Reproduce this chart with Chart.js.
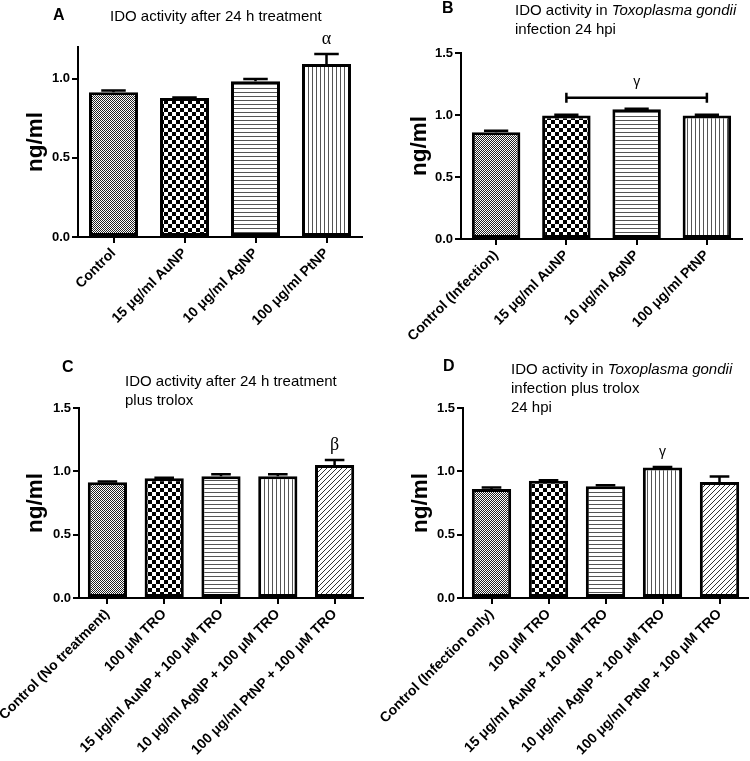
<!DOCTYPE html>
<html>
<head>
<meta charset="utf-8">
<script src="https://cdn.jsdelivr.net/npm/chart.js@4.4.0/dist/chart.umd.min.js"></script>
<style>
  body { margin: 0; background: #fff; }
  #wrap { position: relative; width: 750px; height: 761px; overflow: hidden; font-family: 'Liberation Sans', Arial, sans-serif; color: #000; }
  canvas { position: absolute; }
  .letter { position: absolute; font-weight: bold; font-size: 16px; line-height: 16px; }
  .title { position: absolute; font-size: 15px; line-height: 19px; white-space: nowrap; }
</style>
</head>
<body>
<div id="wrap">
  <canvas id="chartA" width="375" height="360" style="left:0;top:0"></canvas>
  <canvas id="chartB" width="375" height="360" style="left:375px;top:0"></canvas>
  <canvas id="chartC" width="375" height="401" style="left:0;top:360px"></canvas>
  <canvas id="chartD" width="375" height="401" style="left:375px;top:360px"></canvas>

  <div class="letter" style="left:53px;top:7px">A</div>
  <div class="title" style="left:110px;top:6px">IDO activity after 24 h treatment</div>
  <div class="letter" style="left:442px;top:0px">B</div>
  <div class="title" style="left:515px;top:0px">IDO activity in <i>Toxoplasma gondii</i><br>infection 24 hpi</div>
  <div class="letter" style="left:62px;top:359px">C</div>
  <div class="title" style="left:125px;top:371px">IDO activity after 24 h treatment<br>plus trolox</div>
  <div class="letter" style="left:443px;top:358px">D</div>
  <div class="title" style="left:511px;top:359px">IDO activity in <i>Toxoplasma gondii</i><br>infection plus trolox<br>24 hpi</div>
</div>
<script>
// données
const labelsA = ["Control", "15 μg/ml AuNP", "10 μg/ml AgNP", "100 μg/ml PtNP"];
const valuesA = [0.915, 0.878, 0.983, 1.093];
const errorsA = [0.010, 0.003, 0.015, 0.063];

const labelsB = ["Control (Infection)", "15 μg/ml AuNP", "10 μg/ml AgNP", "100 μg/ml PtNP"];
const valuesB = [0.861, 0.995, 1.047, 0.995];
const errorsB = [0.011, 0.008, 0.004, 0.008];

const labelsC = ["Control (No treatment)", "100 μM TRO", "15 μg/ml AuNP + 100 μM TRO", "10 μg/ml AgNP + 100 μM TRO", "100 μg/ml PtNP + 100 μM TRO"];
const valuesC = [0.913, 0.945, 0.962, 0.962, 1.050];
const errorsC = [0.006, 0.004, 0.014, 0.014, 0.040];

const labelsD = ["Control (Infection only)", "100 μM TRO", "15 μg/ml AuNP + 100 μM TRO", "10 μg/ml AgNP + 100 μM TRO", "100 μg/ml PtNP + 100 μM TRO"];
const valuesD = [0.860, 0.925, 0.882, 1.030, 0.915];
const errorsD = [0.013, 0.005, 0.008, 0.004, 0.045];

const yTicksA = [0, 0.5, 1.0];
const yTicksBCD = [0, 0.5, 1.0, 1.5];

// marques de significativité
const sigA = [{ bar: 3, text: "α" }];
const bracketB = { from: 1, to: 3, value: 1.14, text: "γ" };
const sigC = [{ bar: 4, text: "β" }];
const sigD = [{ bar: 3, text: "γ" }];

// motifs de remplissage
function makePattern(kind) {
  const c = document.createElement('canvas');
  const g = c.getContext('2d');
  const n = { fine: 2, checker: 8, hlines: 4, vlines: 4, diag: 5 }[kind];
  c.width = n; c.height = n;
  g.fillStyle = '#fff';
  g.fillRect(0, 0, n, n);
  if (kind === 'fine') {
    g.fillStyle = '#222';
    g.fillRect(0, 0, 1, 1);
    g.fillRect(1, 1, 1, 1);
  } else if (kind === 'checker') {
    g.fillStyle = '#000';
    g.fillRect(0, 0, 4, 4);
    g.fillRect(4, 4, 4, 4);
  } else if (kind === 'hlines') {
    g.fillStyle = '#555';
    g.fillRect(0, 0, n, 1);
  } else if (kind === 'vlines') {
    g.fillStyle = '#555';
    g.fillRect(0, 0, 1, n);
  } else if (kind === 'diag') {
    g.fillStyle = '#333';
    for (let i = 0; i < n; i++) g.fillRect(i, n - 1 - i, 1, 1);
  }
  return g.createPattern(c, 'repeat');
}
const pats = {};
['fine', 'checker', 'hlines', 'vlines', 'diag'].forEach(k => pats[k] = makePattern(k));

// barres d'erreur + symboles
const errorPlugin = {
  id: 'errorBars',
  afterDatasetsDraw(chart, args, opts) {
    const ctx = chart.ctx;
    const y = chart.scales.y;
    const meta = chart.getDatasetMeta(0);
    const vals = chart.data.datasets[0].data;
    const tops = [];
    ctx.save();
    ctx.strokeStyle = '#000';
    ctx.lineWidth = 2.5;
    meta.data.forEach((bar, i) => {
      const top = y.getPixelForValue(vals[i] + opts.errors[i]);
      const base = y.getPixelForValue(vals[i]);
      const half = bar.width / 4;
      tops.push(top);
      ctx.beginPath();
      ctx.moveTo(bar.x, base);
      ctx.lineTo(bar.x, top);
      ctx.moveTo(bar.x - half, top);
      ctx.lineTo(bar.x + half, top);
      ctx.stroke();
    });
    ctx.fillStyle = '#000';
    ctx.textAlign = 'center';
    ctx.textBaseline = 'middle';
    (opts.marks || []).forEach(m => {
      ctx.font = m.text === 'γ' ? "14px 'Liberation Sans', Arial" : "18px 'Liberation Serif', serif";
      ctx.fillText(m.text, meta.data[m.bar].x, tops[m.bar] - 15);
    });
    const br = opts.bracket;
    if (br) {
      const x1 = meta.data[br.from].x, x2 = meta.data[br.to].x;
      const yy = y.getPixelForValue(br.value);
      ctx.beginPath();
      ctx.moveTo(x1, yy); ctx.lineTo(x2, yy);
      ctx.moveTo(x1, yy - 5); ctx.lineTo(x1, yy + 5);
      ctx.moveTo(x2, yy - 5); ctx.lineTo(x2, yy + 5);
      ctx.stroke();
      ctx.font = "14px 'Liberation Sans', Arial";
      ctx.fillText(br.text, (x1 + x2) / 2, yy - 15);
    }
    ctx.restore();
  }
};

Chart.defaults.font.family = "'Liberation Sans', Arial, sans-serif";
Chart.defaults.color = '#000';

function makeChart(id, labels, values, errors, yTicks, yMax, patterns, marks, bracket, geo) {
  return new Chart(document.getElementById(id), {
    type: 'bar',
    data: {
      labels: labels,
      datasets: [{
        data: values,
        backgroundColor: patterns.map(p => pats[p]),
        borderColor: '#000',
        borderWidth: 3,
        borderSkipped: false,
        barPercentage: 1,
        categoryPercentage: 0.69
      }]
    },
    options: {
      responsive: false,
      animation: false,
      layout: { padding: { left: geo.left, right: geo.right, top: geo.top, bottom: 0 } },
      plugins: {
        legend: { display: false },
        tooltip: { enabled: false },
        errorBars: { errors: errors, marks: marks, bracket: bracket }
      },
      scales: {
        x: {
          grid: { display: true, drawOnChartArea: false, offset: false, color: '#000', lineWidth: 2, tickLength: 6 },
          border: { display: true, color: '#000', width: 2 },
          ticks: { font: { size: 14, weight: 'bold' }, color: '#000', minRotation: 45, maxRotation: 45, autoSkip: false, padding: 2 },
          afterFit(s) {
            s.height = geo.xh;
            // les étiquettes longues ne doivent pas pousser la zone du graphique
            s.paddingLeft = 0;
            s.paddingRight = 0;
          }
        },
        y: {
          min: 0,
          max: yMax,
          afterBuildTicks(s) { s.ticks = yTicks.map(v => ({ value: v })); },
          grid: { drawOnChartArea: false, color: '#000', lineWidth: 2, tickLength: 6 },
          border: { display: true, color: '#000', width: 2 },
          ticks: { font: { size: 13, weight: 'bold' }, color: '#000', padding: 2, callback: v => Number(v).toFixed(1) },
          title: { display: true, text: 'ng/ml', font: { size: 22.5, weight: 'bold' }, color: '#000' },
          afterFit(s) { s.width = geo.yw; }
        }
      }
    },
    plugins: [errorPlugin]
  });
}

makeChart('chartA', labelsA, valuesA, errorsA, yTicksA, 1.2,
  ['fine', 'checker', 'hlines', 'vlines'], sigA, null,
  { left: 18, right: 13, top: 47, yw: 60, xh: 123 });
makeChart('chartB', labelsB, valuesB, errorsB, yTicksBCD, 1.5,
  ['fine', 'checker', 'hlines', 'vlines'], [], bracketB,
  { left: 27, right: 8, top: 53, yw: 59, xh: 121 });
makeChart('chartC', labelsC, valuesC, errorsC, yTicksBCD, 1.5,
  ['fine', 'checker', 'hlines', 'vlines', 'diag'], sigC, null,
  { left: 18, right: 12, top: 48, yw: 61, xh: 163 });
makeChart('chartD', labelsD, valuesD, errorsD, yTicksBCD, 1.5,
  ['fine', 'checker', 'hlines', 'vlines', 'diag'], sigD, null,
  { left: 28, right: 2, top: 48, yw: 60, xh: 163 });
</script>
</body>
</html>
